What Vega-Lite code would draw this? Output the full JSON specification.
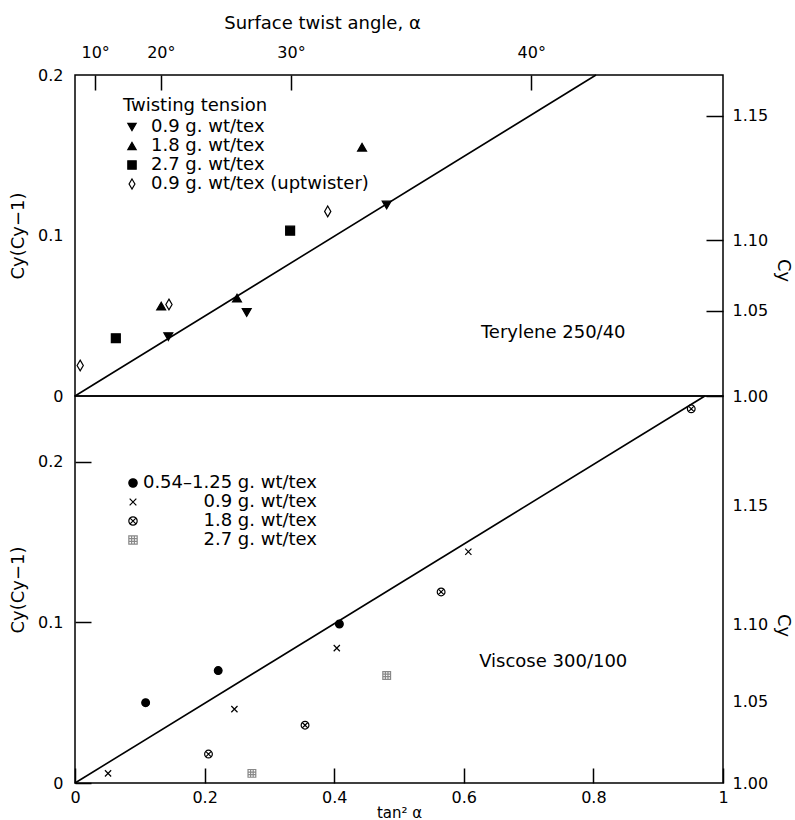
{
  "$schema": "https://vega.github.io/schema/vega-lite/v6.json",
  "background": "white",
  "padding": {"left": 8, "top": 13, "right": 5, "bottom": 0},
  "spacing": 0,
  "bounds": "flush",
  "config": {
    "font": "DejaVu Sans",
    "view": {"stroke": "black", "strokeWidth": 1.5},
    "axis": {"domain": false, "ticks": false, "grid": true, "gridColor": "black", "gridWidth": 1.5, "gridOpacity": 1, "labelFontSize": 16, "titleFontSize": 18, "titleFontWeight": "normal", "labelColor": "black", "titleColor": "black", "labelFont": "DejaVu Sans", "titleFont": "DejaVu Sans", "labelFlush": false},
    "legend": {"labelFont": "DejaVu Sans", "titleFont": "DejaVu Sans", "labelFontSize": 18, "titleFontSize": 18, "titleFontWeight": "normal", "labelColor": "black", "titleColor": "black", "symbolSize": 70, "symbolStrokeWidth": 1.2, "rowPadding": 1, "labelLimit": 400}
  },
  "resolve": {"scale": {"shape": "independent", "fill": "independent", "stroke": "independent"}, "legend": {"shape": "independent", "fill": "independent", "stroke": "independent"}},
  "vconcat": [
    {
      "width": 648,
      "height": 321,
      "resolve": {"axis": {"x": "independent", "y": "independent"}},
      "layer": [
        {
          "data": {"values": [{"x": 0, "y": 0}, {"x": 0.804, "y": 0.2}]},
          "mark": {"type": "line", "color": "black", "strokeWidth": 1.6},
          "encoding": {
            "x": {"field": "x", "type": "quantitative", "scale": {"domain": [0, 1], "nice": false, "zero": false},
              "axis": {"orient": "top", "values": [0.0311, 0.1325, 0.3333, 0.7041], "labelExpr": "datum.value < 0.1 ? '10°' : datum.value < 0.2 ? '20°' : datum.value < 0.5 ? '30°' : '40°'", "title": "Surface twist angle, α", "gridDash": [0, 306, 15, 2000], "labelPadding": 15, "titleX": 247, "titleY": -47, "titleAlign": "center", "titleBaseline": "alphabetic"}},
            "y": {"field": "y", "type": "quantitative", "scale": {"domain": [0, 0.2], "nice": false},
              "axis": {"orient": "right", "values": [0, 0.053, 0.097, 0.1745], "labelExpr": "datum.value == 0 ? '1.00' : datum.value < 0.07 ? '1.05' : datum.value < 0.13 ? '1.10' : '1.15'", "title": "Cy", "gridDash": [17, 2000], "labelPadding": 9, "titleY": 195, "titlePadding": 6}}
          }
        },
        {
          "data": {"values": [
            {"x": 0.144, "y": 0.037, "s": "0.9 g. wt/tex"},
            {"x": 0.265, "y": 0.052, "s": "0.9 g. wt/tex"},
            {"x": 0.481, "y": 0.119, "s": "0.9 g. wt/tex"},
            {"x": 0.133, "y": 0.056, "s": "1.8 g. wt/tex"},
            {"x": 0.25, "y": 0.061, "s": "1.8 g. wt/tex"},
            {"x": 0.443, "y": 0.155, "s": "1.8 g. wt/tex"},
            {"x": 0.063, "y": 0.036, "s": "2.7 g. wt/tex"},
            {"x": 0.332, "y": 0.103, "s": "2.7 g. wt/tex"},
            {"x": 0.008, "y": 0.019, "s": "0.9 g. wt/tex (uptwister)"},
            {"x": 0.145, "y": 0.057, "s": "0.9 g. wt/tex (uptwister)"},
            {"x": 0.39, "y": 0.115, "s": "0.9 g. wt/tex (uptwister)"}
          ]},
          "mark": {"type": "point", "filled": true, "size": 80, "strokeWidth": 1.2, "opacity": 1},
          "encoding": {
            "x": {"field": "x", "type": "quantitative", "axis": null},
            "y": {"field": "y", "type": "quantitative",
              "axis": {"orient": "left", "values": [0, 0.1, 0.2], "labelExpr": "datum.value == 0 ? '0' : format(datum.value, '.1f')", "title": "Cy(Cy−1)", "gridDash": [16, 2000], "labelPadding": 12, "titlePadding": 10}},
            "shape": {"field": "s", "type": "nominal",
              "scale": {"domain": ["0.9 g. wt/tex", "1.8 g. wt/tex", "2.7 g. wt/tex", "0.9 g. wt/tex (uptwister)"], "range": ["triangle-down", "triangle-up", "square", "M0,-1.2L0.7,0L0,1.2L-0.7,0Z"]},
              "legend": {"orient": "none", "legendX": 48, "legendY": 22, "title": "Twisting tension", "labelOffset": 10, "titlePadding": 3}},
            "fill": {"field": "s", "type": "nominal",
              "scale": {"domain": ["0.9 g. wt/tex", "1.8 g. wt/tex", "2.7 g. wt/tex", "0.9 g. wt/tex (uptwister)"], "range": ["black", "black", "black", "white"]}},
            "stroke": {"field": "s", "type": "nominal",
              "scale": {"domain": ["0.9 g. wt/tex", "1.8 g. wt/tex", "2.7 g. wt/tex", "0.9 g. wt/tex (uptwister)"], "range": ["black", "black", "black", "black"]}}
          }
        },
        {
          "data": {"values": [{"x": 0.738, "y": 0.039, "label": "Terylene 250/40"}]},
          "mark": {"type": "text", "fontSize": 18, "font": "DejaVu Sans", "align": "center", "baseline": "middle", "color": "black"},
          "encoding": {
            "x": {"field": "x", "type": "quantitative", "axis": null},
            "y": {"field": "y", "type": "quantitative",
              "axis": {"orient": "left", "values": [0.05, 0.15], "labels": false, "title": null, "gridDash": [10, 2000]}},
            "text": {"field": "label"}
          }
        }
      ]
    },
    {
      "width": 648,
      "height": 387,
      "resolve": {"axis": {"x": "independent", "y": "independent"}},
      "layer": [
        {
          "data": {"values": [
            {"x": 0.109, "y": 0.05, "s": "0.54–1.25 g. wt/tex"},
            {"x": 0.221, "y": 0.07, "s": "0.54–1.25 g. wt/tex"},
            {"x": 0.408, "y": 0.099, "s": "0.54–1.25 g. wt/tex"},
            {"x": 0.051, "y": 0.006, "s": "0.9 g. wt/tex"},
            {"x": 0.246, "y": 0.046, "s": "0.9 g. wt/tex"},
            {"x": 0.404, "y": 0.084, "s": "0.9 g. wt/tex"},
            {"x": 0.607, "y": 0.144, "s": "0.9 g. wt/tex"},
            {"x": 0.206, "y": 0.018, "s": "1.8 g. wt/tex"},
            {"x": 0.355, "y": 0.036, "s": "1.8 g. wt/tex"},
            {"x": 0.565, "y": 0.119, "s": "1.8 g. wt/tex"},
            {"x": 0.951, "y": 0.233, "s": "1.8 g. wt/tex"},
            {"x": 0.273, "y": 0.006, "s": "2.7 g. wt/tex"},
            {"x": 0.481, "y": 0.067, "s": "2.7 g. wt/tex"}
          ]},
          "mark": {"type": "point", "filled": true, "size": 60, "strokeWidth": 1.2, "opacity": 1},
          "encoding": {
            "x": {"field": "x", "type": "quantitative", "scale": {"domain": [0, 1], "nice": false, "zero": false},
              "axis": {"orient": "bottom", "values": [0, 0.2, 0.4, 0.6, 0.8, 1], "labelExpr": "datum.value == 0 ? '0' : datum.value == 1 ? '1' : format(datum.value, '.1f')", "title": "tan² α", "titleFontSize": 15, "gridDash": [0, 372, 15, 2000], "labelPadding": 6, "titlePadding": 0}},
            "y": {"field": "y", "type": "quantitative", "scale": {"domain": [0, 0.241], "nice": false},
              "axis": {"orient": "left", "values": [0, 0.1, 0.2], "labelExpr": "datum.value == 0 ? '0' : format(datum.value, '.1f')", "title": "Cy(Cy−1)", "gridDash": [16, 2000], "labelPadding": 12, "titlePadding": 10}},
            "shape": {"field": "s", "type": "nominal",
              "scale": {"domain": ["0.54–1.25 g. wt/tex", "0.9 g. wt/tex", "1.8 g. wt/tex", "2.7 g. wt/tex"], "range": ["circle", "M-0.8,-0.8L0.8,0.8M-0.8,0.8L0.8,-0.8", "M1,0A1,1,0,1,1,-1,0A1,1,0,1,1,1,0ZM-0.7,-0.7L0.7,0.7M-0.7,0.7L0.7,-0.7", "M-1,-1H1V1H-1ZM-0.33,-1V1M0.33,-1V1M-1,-0.33H1M-1,0.33H1"]},
              "legend": {"orient": "none", "legendX": 49, "legendY": 78, "title": null, "labelAlign": "right", "labelOffset": 175}},
            "fill": {"field": "s", "type": "nominal",
              "scale": {"domain": ["0.54–1.25 g. wt/tex", "0.9 g. wt/tex", "1.8 g. wt/tex", "2.7 g. wt/tex"], "range": ["black", "white", "white", "white"]}},
            "stroke": {"field": "s", "type": "nominal",
              "scale": {"domain": ["0.54–1.25 g. wt/tex", "0.9 g. wt/tex", "1.8 g. wt/tex", "2.7 g. wt/tex"], "range": ["black", "black", "black", "#888888"]}}
          }
        },
        {
          "data": {"values": [{"x": 0, "y": 0}, {"x": 0.972, "y": 0.241}]},
          "mark": {"type": "line", "color": "black", "strokeWidth": 1.6},
          "encoding": {
            "x": {"field": "x", "type": "quantitative",
              "axis": {"orient": "bottom", "values": [0.1, 0.3, 0.5, 0.7, 0.9], "labels": false, "title": null, "gridDash": [0, 379, 8, 2000]}},
            "y": {"field": "y", "type": "quantitative",
              "axis": {"orient": "right", "values": [0, 0.051, 0.099, 0.173], "labelExpr": "datum.value == 0 ? '1.00' : datum.value < 0.07 ? '1.05' : datum.value < 0.13 ? '1.10' : '1.15'", "title": "Cy", "gridDash": [17, 2000], "labelPadding": 9, "titleY": 229, "titlePadding": 6}}
          }
        },
        {
          "data": {"values": [{"x": 0.738, "y": 0.0756, "label": "Viscose 300/100"}]},
          "mark": {"type": "text", "fontSize": 18, "font": "DejaVu Sans", "align": "center", "baseline": "middle", "color": "black"},
          "encoding": {
            "x": {"field": "x", "type": "quantitative", "axis": null},
            "y": {"field": "y", "type": "quantitative",
              "axis": {"orient": "left", "values": [0.05, 0.15], "labels": false, "title": null, "gridDash": [10, 2000]}},
            "text": {"field": "label"}
          }
        }
      ]
    }
  ]
}
